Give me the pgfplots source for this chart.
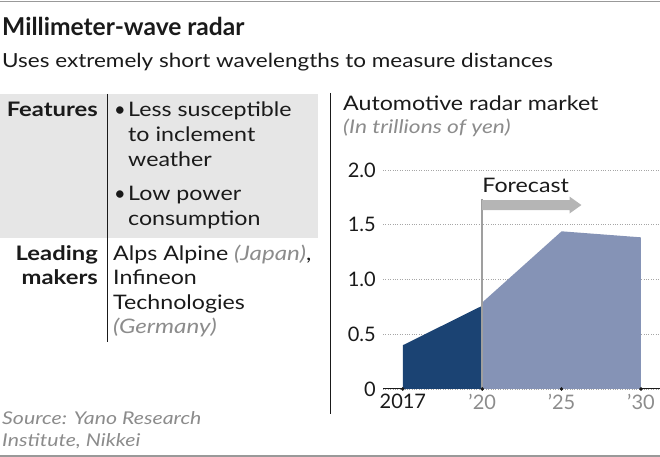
\documentclass[border=0pt]{standalone}
\usepackage{pgfplots}
\pgfplotsset{compat=1.18}
\usepackage{fontspec}
\setmainfont{Lato}[FakeStretch=1.16]
\newfontfamily\boldf{Lato}[FakeStretch=1.19]
\newfontfamily\itf{Lato}[FakeStretch=1.21]
\newfontfamily\plainf{Lato}
\definecolor{navy}{HTML}{1B4373}
\definecolor{lightnavy}{HTML}{8593B6}
\definecolor{boxgray}{HTML}{E6E6E6}
\definecolor{txtgray}{HTML}{8C8C8C}
\definecolor{txt}{HTML}{1A1A1A}
\definecolor{arrowgray}{HTML}{B5B5B5}
\newcommand{\fs}[1]{\fontsize{#1bp}{#1bp}\selectfont}
\begin{document}
\begin{tikzpicture}[x=1bp,y=1bp]
\path[use as bounding box] (0,0) rectangle (660,457);
% rules
\draw[color=gray!80, line width=1.5bp] (0,455.5) -- (660,455.5);
\draw[color=gray!80, line width=1.5bp] (0,1.2) -- (660,1.2);
% titles
\node[anchor=base west, inner sep=0pt, text=txt] at (2,421) {\plainf\fs{24.6}\bfseries Millimeter-wave radar};
\node[anchor=base west, inner sep=0pt, text=txt] at (2,389) {\fs{19.4}Uses extremely short wavelengths to measure distances};
% table
\fill[boxgray] (0,363) rectangle (318,219);
\draw[color=txt, line width=1bp] (107,363) -- (107,115);
\draw[color=txt, line width=1.2bp] (330.5,364) -- (330.5,43);
\begin{scope}[every node/.style={inner sep=0pt, text=txt}]
\node[anchor=base east] at (98,340) {\boldf\fs{20}\bfseries Features};
\node[anchor=base west] at (114,340) {\plainf\fs{20}•};
\node[anchor=base west] at (128,340) {\fs{20}Less susceptible};
\node[anchor=base west] at (128,315) {\fs{20}to inclement};
\node[anchor=base west] at (128,290) {\fs{20}weather};
\node[anchor=base west] at (114,256) {\plainf\fs{20}•};
\node[anchor=base west] at (128,256) {\fs{20}Low power};
\node[anchor=base west] at (128,231) {\fs{20}consumption};
\node[anchor=base east] at (98,196) {\boldf\fs{20}\bfseries Leading};
\node[anchor=base east] at (98,172) {\boldf\fs{20}\bfseries makers};
\node[anchor=base west] at (113,196) {\fs{20}Alps Alpine \textcolor{txtgray}{\itf\itshape (Japan)},};
\node[anchor=base west] at (113,172) {\fs{20}Infineon};
\node[anchor=base west] at (113,147) {\fs{20}Technologies};
\node[anchor=base west] at (113,123) {\fs{20}\textcolor{txtgray}{\itf\itshape (Germany)}};
\node[anchor=base west] at (343,346) {\fs{20}Automotive radar market};
\node[anchor=base west, text=txtgray] at (343,323) {\itf\fs{18.8}\itshape (In trillions of yen)};
\node[anchor=base west, text=txtgray] at (2,32) {\itf\fs{17.6}\itshape Source: Yano Research};
\node[anchor=base west, text=txtgray] at (2,10) {\itf\fs{17.6}\itshape Institute, Nikkei};
\end{scope}
% chart
\begin{axis}[
  at={(383bp,68bp)}, anchor=south west,
  width=277bp, height=219bp, scale only axis,
  xmin=-0.25, xmax=3.24, ymin=0, ymax=2,
  axis lines=left, axis line style={-},
  y axis line style={draw=none},
  x axis line style={color=txt, line width=1bp},
  xtick={0,1,2,3},
  xticklabels={2017,\textcolor{txtgray}{’20},\textcolor{txtgray}{’25},\textcolor{txtgray}{’30}},
  ytick={0,0.5,1,1.5,2},
  yticklabels={0,0.5,1.0,1.5,2.0},
  major tick length=0pt,
  ymajorgrids, grid style={dotted, color=gray!70, line width=0.8bp},
  /pgf/number format/assume math mode=true,
  xticklabel style={font=\plainf\fs{20}, text=txt, inner sep=0pt, anchor=north, yshift=-5bp},
  yticklabel style={font=\plainf\fs{20}, text=txt, inner sep=0pt, anchor=east, xshift=-7bp},
  clip=false,
]
\addplot[fill=lightnavy, draw=none] coordinates {(1,0.79) (2,1.44) (3,1.385)} \closedcycle;
\addplot[fill=navy, draw=none] coordinates {(0,0.40) (1,0.76)} \closedcycle;
\draw[color=gray!75, line width=1.5bp] (axis cs:1,0) -- (axis cs:1,1.735);
\fill[arrowgray] ([yshift=5bp]axis cs:1,1.68) -- ([yshift=5bp]axis cs:2.10,1.68) -- ([yshift=8.5bp]axis cs:2.10,1.68) -- (axis cs:2.25,1.68) -- ([yshift=-8.5bp]axis cs:2.10,1.68) -- ([yshift=-5bp]axis cs:2.10,1.68) -- ([yshift=-5bp]axis cs:1,1.68) -- cycle;
\node[anchor=base west, inner sep=0pt, text=txt] at (axis cs:1,1.79) {\fs{20}Forecast};
\addplot[only marks, mark=*, mark size=1.6bp, color=txt] coordinates {(0,0) (1,0) (2,0) (3,0)};
\end{axis}
\end{tikzpicture}
\end{document}
